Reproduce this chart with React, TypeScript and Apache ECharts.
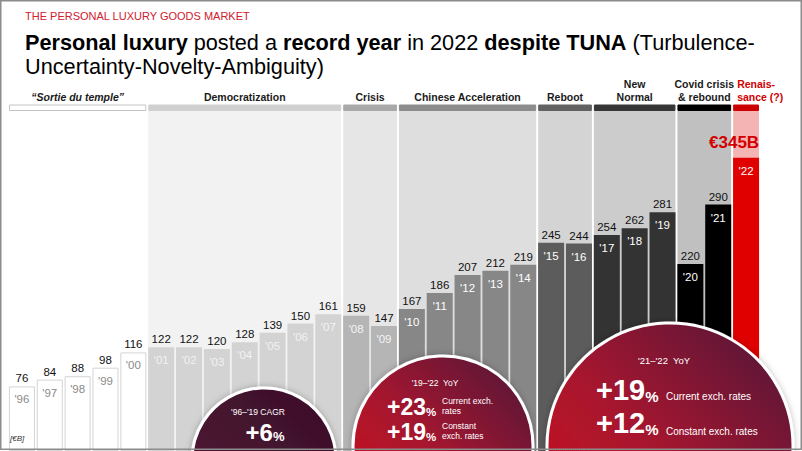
import React, { useEffect, useRef } from 'react';
import * as echarts from 'echarts';

// ---------- data ----------
const years = ["'96", "'97", "'98", "'99", "'00", "'01", "'02", "'03", "'04", "'05", "'06", "'07", "'08", "'09", "'10", "'11", "'12", "'13", "'14", "'15", "'16", "'17", "'18", "'19", "'20", "'21", "'22"];
const marketValues = [76, 84, 88, 98, 116, 122, 122, 120, 128, 139, 150, 161, 159, 147, 167, 186, 207, 212, 219, 245, 244, 254, 262, 281, 220, 290, 345];
const eraNames = ['“Sortie du temple”', 'Democratization', 'Crisis', 'Chinese Acceleration', 'Reboot', 'New\nNormal', 'Covid crisis\n& rebound', 'Renais-\nsance (?)'];
const eraStart = [0, 5, 12, 14, 19, 21, 24, 26];
const eraEnd = [4, 11, 13, 18, 20, 23, 25, 26];
const cagrLabel = "'96–'19 CAGR";
const cagrValue = '+6';
const yoyMidLabel = "'19–'22  YoY";
const yoyMidCurrent = '+23';
const yoyMidConstant = '+19';
const yoyLastLabel = "'21–'22  YoY";
const yoyLastCurrent = '+19';
const yoyLastConstant = '+12';

// ---------- styles ----------
const FONT = '"Liberation Sans", Arial, Helvetica, sans-serif';
const bandColors = ['#ffffff', '#f2f2f2', '#e6e6e6', '#dedede', '#d4d4d4', '#cccccc', '#c0c0c0', '#f4b4b4'];
const headerColors = ['#ffffff', '#d0d0d0', '#a9a9a9', '#8c8c8c', '#626262', '#363636', '#000000', '#cc0000'];
const barColors = ['#ffffff', '#d3d3d3', '#b5b5b5', '#878787', '#5c5c5c', '#333333', '#000000', '#e00000'];
const yearColors = ['#8a8a8a', '#f2f2f2', '#f4f4f4', '#ffffff', '#ffffff', '#ffffff', '#ffffff', '#ffffff'];
const TOPZ = 100;

const eraOf = (i: number) => eraStart.findIndex((s, k) => i >= s && i <= eraEnd[k]);

const renderEra = (params: any, api: any) => {
  const s = api.value(0);
  const e = api.value(1);
  const k = api.value(2);
  const half = api.size([1, 0])[0] / 2 - 1;
  const x0 = api.coord([s, 0])[0] - half;
  const x1 = api.coord([e, 0])[0] + half;
  const top = api.coord([s, 400])[1];
  const bottom = api.coord([s, 0])[1];
  const isLast = k === eraNames.length - 1;
  return {
    type: 'group',
    children: [
      { type: 'rect', shape: { x: x0, y: top, width: x1 - x0, height: bottom - top }, style: { fill: bandColors[k] } },
      {
        type: 'rect',
        shape: { x: x0 + 0.5, y: top - 6, width: x1 - x0 - 1, height: 5.5 },
        style: { fill: headerColors[k], stroke: k === 0 ? '#c4c4c4' : headerColors[k], lineWidth: 1 },
      },
      {
        type: 'text',
        x: isLast ? x0 + 4 : (x0 + x1) / 2,
        y: top - 7.5,
        style: {
          text: eraNames[k],
          fill: isLast ? '#d00000' : '#1a1a1a',
          fontSize: 10.5,
          fontWeight: 'bold',
          fontStyle: k === 0 ? 'italic' : 'normal',
          fontFamily: FONT,
          align: isLast ? 'left' : 'center',
          verticalAlign: 'bottom',
          lineHeight: 13,
        },
      },
    ],
  };
};

const bigNum = (x: number, y: number, num: string, big: number, small: number, align: string) => ({
  type: 'text',
  z: TOPZ + 2,
  x,
  y,
  style: {
    text: `{b|${num}}{p|%}`,
    align,
    verticalAlign: 'middle',
    rich: {
      b: { fontSize: big, fontWeight: 'bold', fill: '#fff', fontFamily: FONT, verticalAlign: 'bottom' },
      p: { fontSize: small, fontWeight: 'bold', fill: '#fff', fontFamily: FONT, verticalAlign: 'bottom', padding: [0, 0, 1, 0] },
    },
  },
});

const redGrad = () =>
  new echarts.graphic.LinearGradient(0, 1, 1, 0, [
    { offset: 0, color: '#d40f1c' },
    { offset: 0.45, color: '#a8132e' },
    { offset: 1, color: '#4c193a' },
  ]);

const txt = (x: number, y: number, text: string, size: number, align = 'left', extra: any = {}) => ({
  type: 'text',
  z: TOPZ + 2,
  x,
  y,
  style: { text, fill: '#fff', fontSize: size, fontFamily: FONT, align, verticalAlign: 'middle', ...extra },
});

const circ = (cx: number, cy: number, r: number, fill: any) => ({
  type: 'circle',
  z: TOPZ,
  shape: { cx, cy, r },
  style: { fill, stroke: '#fff', lineWidth: 3, shadowBlur: 6, shadowColor: 'rgba(0,0,0,0.25)' },
});

export default function App() {
  const ref = useRef<HTMLDivElement>(null);
  useEffect(() => {
    if (!ref.current) return;
    const chart = echarts.init(ref.current, null, { renderer: 'svg' });
    const lastIdx = marketValues.length - 1;
    const option: any = {
      animation: false,
      grid: { left: 8, right: 42, top: 111, height: 347 },
      xAxis: { type: 'category', data: years, show: false },
      yAxis: { type: 'value', min: 0, max: 400, show: false },
      series: [
        {
          type: 'custom',
          z: 1,
          clip: false,
          silent: true,
          renderItem: renderEra,
          encode: { x: 0, y: 1 },
          data: eraStart.map((s, i) => [s, eraEnd[i], i]),
        },
        {
          type: 'bar',
          z: 3,
          barWidth: 26,
          silent: true,
          data: marketValues.map((v, i) => {
            const k = eraOf(i);
            const item: any = {
              value: v,
              itemStyle: { color: barColors[k], borderColor: k === 0 ? '#d4d4d4' : barColors[k], borderWidth: k === 0 ? 1 : 0 },
            };
            if (i === lastIdx) {
              item.label = {
                formatter: (p: any) => `€${p.value}B`,
                fontSize: 17,
                fontWeight: 'bold',
                color: '#d40000',
                offset: [-12, -5],
              };
            }
            return item;
          }),
          label: { show: true, position: 'top', distance: 2, color: '#111', fontSize: 11.5, fontFamily: FONT },
        },
        {
          type: 'bar',
          z: 4,
          barWidth: 26,
          barGap: '-100%',
          silent: true,
          itemStyle: { color: 'rgba(0,0,0,0)' },
          data: marketValues.map((v, i) => ({ value: v, label: { color: yearColors[eraOf(i)] } })),
          label: {
            show: true,
            position: 'insideTop',
            distance: 7,
            formatter: (p: any) => years[p.dataIndex],
            fontSize: 11.5,
            fontFamily: FONT,
          },
        },
      ],
      graphic: [
        {
          type: 'text',
          x: 25,
          y: 16,
          style: { text: 'THE PERSONAL LUXURY GOODS MARKET', fill: '#d0202e', fontSize: 11, fontFamily: FONT, verticalAlign: 'middle' },
        },
        {
          type: 'text',
          x: 25,
          y: 42,
          style: {
            text: '{b|Personal luxury}{n| posted a }{b|record year}{n| in 2022 }{b|despite TUNA}{n| (Turbulence-}',
            verticalAlign: 'middle',
            rich: {
              b: { fontSize: 21.7, fontWeight: 'bold', fill: '#000', fontFamily: FONT },
              n: { fontSize: 21.7, fill: '#000', fontFamily: FONT },
            },
          },
        },
        {
          type: 'text',
          x: 25,
          y: 66.5,
          style: { text: 'Uncertainty-Novelty-Ambiguity)', fill: '#000', fontSize: 21.7, fontFamily: FONT, verticalAlign: 'middle' },
        },
        {
          type: 'text',
          x: 10,
          y: 438,
          z: 50,
          style: { text: '[€B]', fill: '#333', fontSize: 8, fontStyle: 'italic', fontFamily: FONT, verticalAlign: 'middle' },
        },
        circ(
          264,
          460,
          72,
          new echarts.graphic.LinearGradient(0, 1, 1, 0, [
            { offset: 0, color: '#5a1634' },
            { offset: 0.5, color: '#45132f' },
            { offset: 1, color: '#3a0f29' },
          ])
        ),
        txt(258, 412, cagrLabel, 8.5, 'center'),
        bigNum(265, 432, cagrValue, 24, 13, 'center'),

        circ(443, 446, 90, redGrad()),
        txt(435, 383, yoyMidLabel, 8.5, 'center'),
        bigNum(387, 407, yoyMidCurrent, 23, 11.5, 'left'),
        txt(442, 405.5, 'Current exch.\nrates', 8.5, 'left', { lineHeight: 10 }),
        bigNum(387, 432, yoyMidConstant, 23, 11.5, 'left'),
        txt(442, 431, 'Constant\nexch. rates', 8.5, 'left', { lineHeight: 10 }),

        circ(670, 446, 123, redGrad()),
        txt(664, 360, yoyLastLabel, 9.5, 'center'),
        bigNum(596, 390, yoyLastCurrent, 29, 15, 'left'),
        txt(666, 396, 'Current exch. rates', 10, 'left'),
        bigNum(596, 423, yoyLastConstant, 29, 15, 'left'),
        txt(666, 431, 'Constant exch. rates', 10, 'left'),
        {
          type: 'rect',
          z: 200,
          silent: true,
          shape: { x: 0.75, y: 0.75, width: 800.5, height: 448.5 },
          style: { fill: 'none', stroke: '#8c8c8c', lineWidth: 1.5 },
        },
      ],
    };
    chart.setOption(option);
    return () => chart.dispose();
  }, []);
  return <div ref={ref} style={{ position: 'fixed', left: 0, top: 0, width: 802, height: 451, background: '#fff' }} />;
}
